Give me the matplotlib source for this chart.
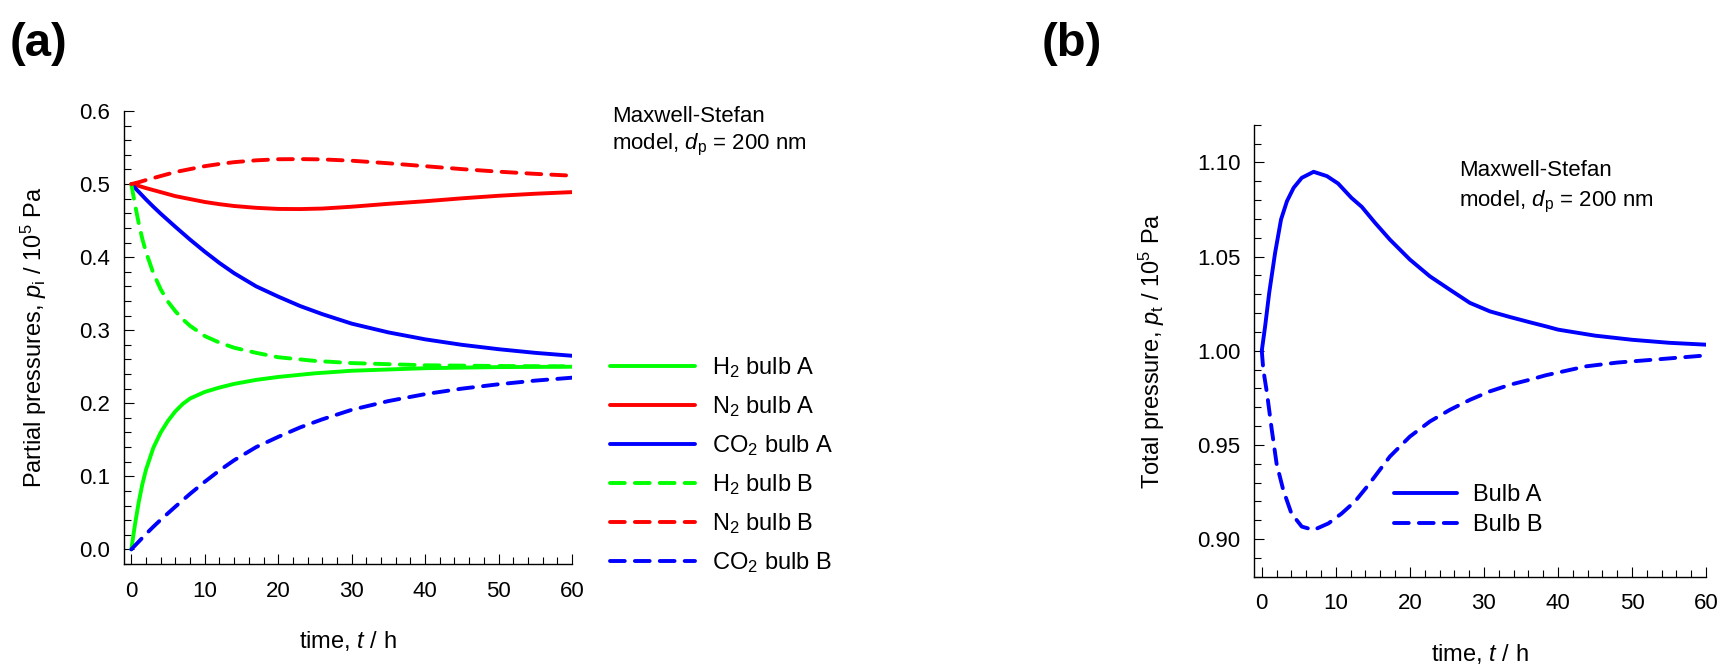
import matplotlib
matplotlib.use('Agg')
import matplotlib.pyplot as plt
from matplotlib.ticker import MultipleLocator, FormatStrFormatter

plt.rcParams['font.family'] = 'Liberation Sans'
plt.rcParams['mathtext.fontset'] = 'custom'
plt.rcParams['mathtext.rm'] = 'Liberation Sans'
plt.rcParams['mathtext.it'] = 'Liberation Sans:italic'
plt.rcParams['font.size'] = 16

#%% partial pressures (a), time in h, pressure in 1e5 Pa
t_h2 = [0, 0.5, 1, 1.5, 2, 3, 4, 5, 6, 7, 8, 10, 12, 14, 17, 20, 25, 30, 40, 50, 60]
h2_A = [0, 0.034, 0.064, 0.089, 0.109, 0.139, 0.160, 0.176, 0.189, 0.199, 0.2065,
        0.2155, 0.2215, 0.2265, 0.232, 0.236, 0.241, 0.2445, 0.248, 0.2495, 0.250]
h2_B = [0.5, 0.472, 0.447, 0.425, 0.407, 0.378, 0.356, 0.339, 0.326, 0.315, 0.306,
        0.292, 0.283, 0.276, 0.269, 0.263, 0.258, 0.255, 0.252, 0.251, 0.2505]

t_n2 = [0, 1, 2, 4, 6, 8, 10, 12, 14, 17, 20, 23, 26, 30, 35, 40, 45, 50, 55, 60]
n2_A = [0.5, 0.4975, 0.4945, 0.489, 0.4835, 0.4795, 0.4755, 0.4725, 0.4700, 0.4675,
        0.4660, 0.4658, 0.4665, 0.4690, 0.4730, 0.4765, 0.4805, 0.4840, 0.4868, 0.4890]
n2_B = [0.5, 0.5025, 0.5055, 0.511, 0.5165, 0.5205, 0.5245, 0.5275, 0.5300, 0.5325,
        0.5340, 0.5342, 0.5338, 0.5320, 0.5285, 0.5245, 0.5205, 0.5170, 0.5140, 0.5115]

t_co2 = [0, 1, 2, 3, 4, 6, 8, 10, 12, 14, 17, 20, 23, 26, 30, 35, 40, 45, 50, 55, 60]
co2_A = [0.5, 0.4895, 0.479, 0.469, 0.4595, 0.4415, 0.424, 0.4075, 0.392, 0.378, 0.360,
         0.346, 0.333, 0.322, 0.309, 0.297, 0.2875, 0.280, 0.274, 0.269, 0.265]
co2_B = [0, 0.0105, 0.021, 0.031, 0.0405, 0.0585, 0.076, 0.0925, 0.108, 0.122, 0.140,
         0.154, 0.167, 0.178, 0.191, 0.203, 0.2125, 0.220, 0.226, 0.231, 0.235]

#%% total pressures (b)
t_A = [0, 0.45, 1.0, 1.8, 2.6, 3.4, 4.3, 5.4, 7.0, 8.8, 10.3, 12.1, 13.5, 15.3, 17.3,
       20, 22.7, 25.4, 28.1, 30.8, 33.5, 36.2, 38.4, 40, 45, 50, 55, 60]
p_A = [1.000, 1.0129, 1.0307, 1.052, 1.0697, 1.0794, 1.0865, 1.0918, 1.095, 1.0927,
       1.0888, 1.0812, 1.0764, 1.0679, 1.059, 1.0484, 1.0395, 1.0324, 1.0254, 1.0209,
       1.0179, 1.0151, 1.0129, 1.0112, 1.0080, 1.0058, 1.0042, 1.0032]
t_B = [0, 0.2, 0.7, 1.35, 2.0, 2.9, 4.0, 5.4, 7.0, 9.0, 10.8, 12.6, 14.4, 17.3, 20,
       22.7, 25.4, 28.1, 30.8, 33.5, 36.2, 38.4, 43.8, 48, 52.8, 60]
p_B = [1.000, 0.990, 0.9775, 0.958, 0.940, 0.926, 0.9136, 0.9066, 0.9048, 0.9083,
       0.9136, 0.920, 0.9287, 0.9438, 0.9544, 0.9624, 0.9686, 0.9739, 0.9784, 0.9819,
       0.9846, 0.9870, 0.9917, 0.9937, 0.9952, 0.9975]

green = '#00ff00'
red = '#ff0000'
blue = '#0000ff'
lw = 2.8
dash = (3.8, 2.6)


def style(ax, xpad=12, ypad=10):
    ax.spines['top'].set_visible(False)
    ax.spines['right'].set_visible(False)
    for s in ('left', 'bottom'):
        ax.spines[s].set_linewidth(1.0)
    ax.tick_params(which='both', direction='in', width=0.8, labelsize=16)
    ax.tick_params(which='major', length=7.5)
    ax.tick_params(which='minor', length=5)
    ax.tick_params(axis='x', which='both', pad=xpad)
    ax.tick_params(axis='y', which='both', pad=ypad)
    ax.xaxis.set_major_locator(MultipleLocator(10))
    ax.xaxis.set_minor_locator(MultipleLocator(2))
    ax.set_xlim(-1, 60)


def line(ax, x, y, c, label, dashed=False):
    kw = dict(color=c, lw=lw, label=label, solid_capstyle='round')
    if dashed:
        kw.update(ls=(0, dash), dash_capstyle='round')
    ax.plot(x, y, **kw)


fig = plt.figure(figsize=(17.24, 6.68), dpi=100)

#%% (a)
ax1 = fig.add_axes([0.0719, 0.1557, 0.2599, 0.6781])
style(ax1)
line(ax1, t_h2, h2_A, green, 'H$_2$ bulb A')
line(ax1, t_n2, n2_A, red, 'N$_2$ bulb A')
line(ax1, t_co2, co2_A, blue, 'CO$_2$ bulb A')
line(ax1, t_h2, h2_B, green, 'H$_2$ bulb B', dashed=True)
line(ax1, t_n2, n2_B, red, 'N$_2$ bulb B', dashed=True)
line(ax1, t_co2, co2_B, blue, 'CO$_2$ bulb B', dashed=True)
ax1.set_ylim(-0.02, 0.6)
ax1.yaxis.set_major_locator(MultipleLocator(0.1))
ax1.yaxis.set_minor_locator(MultipleLocator(0.02))
ax1.yaxis.set_major_formatter(FormatStrFormatter('%.1f'))
ax1.set_xlabel('time, $\\mathit{t}$ / h', va='center', fontsize=17)
ax1.set_ylabel('Partial pressures, $\\mathit{p}_\\mathrm{i}$ / 10$^5$ Pa', va='center',
               fontsize=17)
ax1.xaxis.set_label_coords(0.5, -0.170)
ax1.yaxis.set_label_coords(-0.201, 0.5)
ax1.legend(loc='upper left', bbox_to_anchor=(610 / 1724, 1 - 355 / 668),
           bbox_transform=fig.transFigure, frameon=False, borderpad=0,
           borderaxespad=0, handlelength=3.6, handletextpad=0.72,
           labelspacing=0.60, fontsize=17)

#%% (b)
ax2 = fig.add_axes([0.7276, 0.1367, 0.2620, 0.6766])
style(ax2)
line(ax2, t_A, p_A, blue, 'Bulb A')
line(ax2, t_B, p_B, blue, 'Bulb B', dashed=True)
ax2.set_ylim(0.88, 1.12)
ax2.yaxis.set_major_locator(MultipleLocator(0.05))
ax2.yaxis.set_minor_locator(MultipleLocator(0.01))
ax2.yaxis.set_major_formatter(FormatStrFormatter('%.2f'))
ax2.set_xlabel('time, $\\mathit{t}$ / h', va='center', fontsize=17)
ax2.set_ylabel('Total pressure, $\\mathit{p}_\\mathrm{t}$ / 10$^5$ Pa', va='center',
               fontsize=17)
ax2.xaxis.set_label_coords(0.5, -0.170)
ax2.yaxis.set_label_coords(-0.226, 0.5)
ax2.legend(loc='upper left', bbox_to_anchor=(1394 / 1724, 1 - 484 / 668),
           bbox_transform=fig.transFigure, frameon=False, borderpad=0,
           borderaxespad=0, handlelength=2.67, handletextpad=0.68,
           labelspacing=0.35, fontsize=17)

# panel tags and model annotation
fig.text(10 / 1724, 1 - 44 / 668, '(a)', fontsize=34, fontweight='bold', va='center')
fig.text(1042 / 1724, 1 - 44 / 668, '(b)', fontsize=34, fontweight='bold', va='center')
for x0, y0, dy in ((612, 122, 27), (1459, 176, 30)):
    fig.text(x0 / 1724, 1 - y0 / 668, 'Maxwell-Stefan', va='baseline')
    fig.text(x0 / 1724, 1 - (y0 + dy) / 668,
             'model, $\\mathit{d}_\\mathrm{p}$ = 200 nm', va='baseline')

fig.savefig('out.png', dpi=100)
